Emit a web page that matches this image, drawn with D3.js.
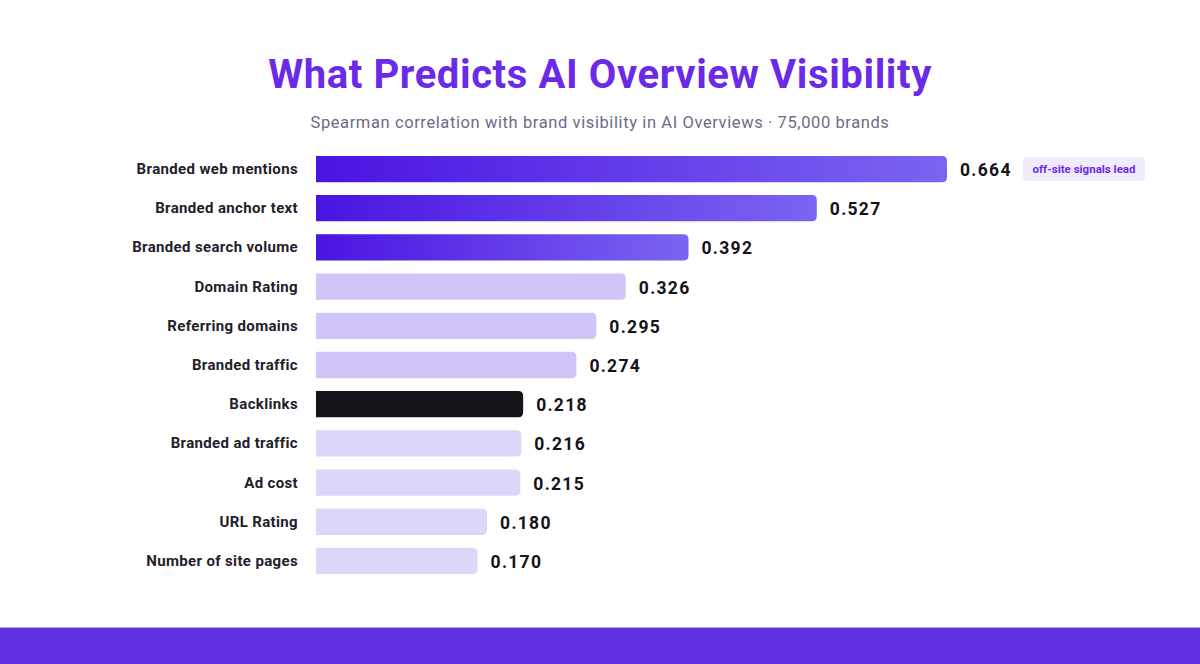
<!DOCTYPE html>
<html><head><meta charset="utf-8">
<script src="https://cdn.jsdelivr.net/npm/d3@7"></script>
<style>body{margin:0;background:#fff}svg{display:block}</style>
</head><body><svg id="c" width="1200" height="664"></svg>
<script>
const categories=["Branded web mentions","Branded anchor text","Branded search volume","Domain Rating","Referring domains","Branded traffic","Backlinks","Branded ad traffic","Ad cost","URL Rating","Number of site pages"];
const values=[0.664,0.527,0.392,0.326,0.295,0.274,0.218,0.216,0.215,0.180,0.170];
const groups=["top","top","top","mid","mid","mid","dark","low","low","low","low"];
const svg=d3.select("#c");
const font="Roboto, 'Noto Sans', sans-serif";
const defs=svg.append("defs");
const g=defs.append("linearGradient").attr("id","gr");
g.append("stop").attr("offset","0%").attr("stop-color","#4a14e2");
g.append("stop").attr("offset","100%").attr("stop-color","#7c64f1");
const fill={top:"url(#gr)",mid:"#d1c4f8",dark:"#16121a",low:"#ddd6f9"};
svg.append("rect").attr("x",0).attr("y",628).attr("width",1200).attr("height",36).attr("fill","#5f31e0");
svg.append("rect").attr("x",0).attr("y",627).attr("width",1200).attr("height",1).attr("fill","#b9a8f2");
svg.append("text").attr("x",600).attr("y",88).attr("text-anchor","middle").attr("font-family",font).attr("font-weight",700).attr("font-size",40).attr("letter-spacing",0.6).attr("fill","#6b2ae8").text("What Predicts AI Overview Visibility");
svg.append("text").attr("x",600).attr("y",128).attr("text-anchor","middle").attr("font-family",font).attr("font-size",16.5).attr("letter-spacing",0.6).attr("fill","#6e6a85").text("Spearman correlation with brand visibility in AI Overviews · 75,000 brands");
const x=d3.scaleLinear().domain([0,0.664]).range([316,947]);
const y=d3.scaleBand().domain(categories).range([150,580]).paddingInner(0.33).paddingOuter(0.15);
const r=5;
categories.forEach((c,i)=>{
  const x0=x(0),x1=x(values[i]),y0=y(c),h=y.bandwidth();
  svg.append("path").attr("fill",fill[groups[i]])
    .attr("d",`M${x0},${y0}H${x1-r}Q${x1},${y0} ${x1},${y0+r}V${y0+h-r}Q${x1},${y0+h} ${x1-r},${y0+h}H${x0}Z`);
  svg.append("text").attr("x",298).attr("y",y0+h/2+5).attr("text-anchor","end").attr("font-family",font).attr("font-weight",700).attr("font-size",15).attr("letter-spacing",0.35).attr("fill","#23202b").text(c);
  svg.append("text").attr("x",x1+13).attr("y",y0+h/2+7).attr("font-family",font).attr("font-weight",700).attr("font-size",17.5).attr("letter-spacing",1.3).attr("fill","#16121a").text(values[i].toFixed(3));
});
const by=y(categories[0]);
svg.append("rect").attr("x",1023).attr("y",by+1).attr("width",122).attr("height",24).attr("rx",4).attr("fill","#f0ebfd");
svg.append("text").attr("x",1084).attr("y",by+17.5).attr("text-anchor","middle").attr("font-family",font).attr("font-weight",700).attr("font-size",11.5).attr("fill","#6b2ae8").text("off-site signals lead");
</script></body></html>
